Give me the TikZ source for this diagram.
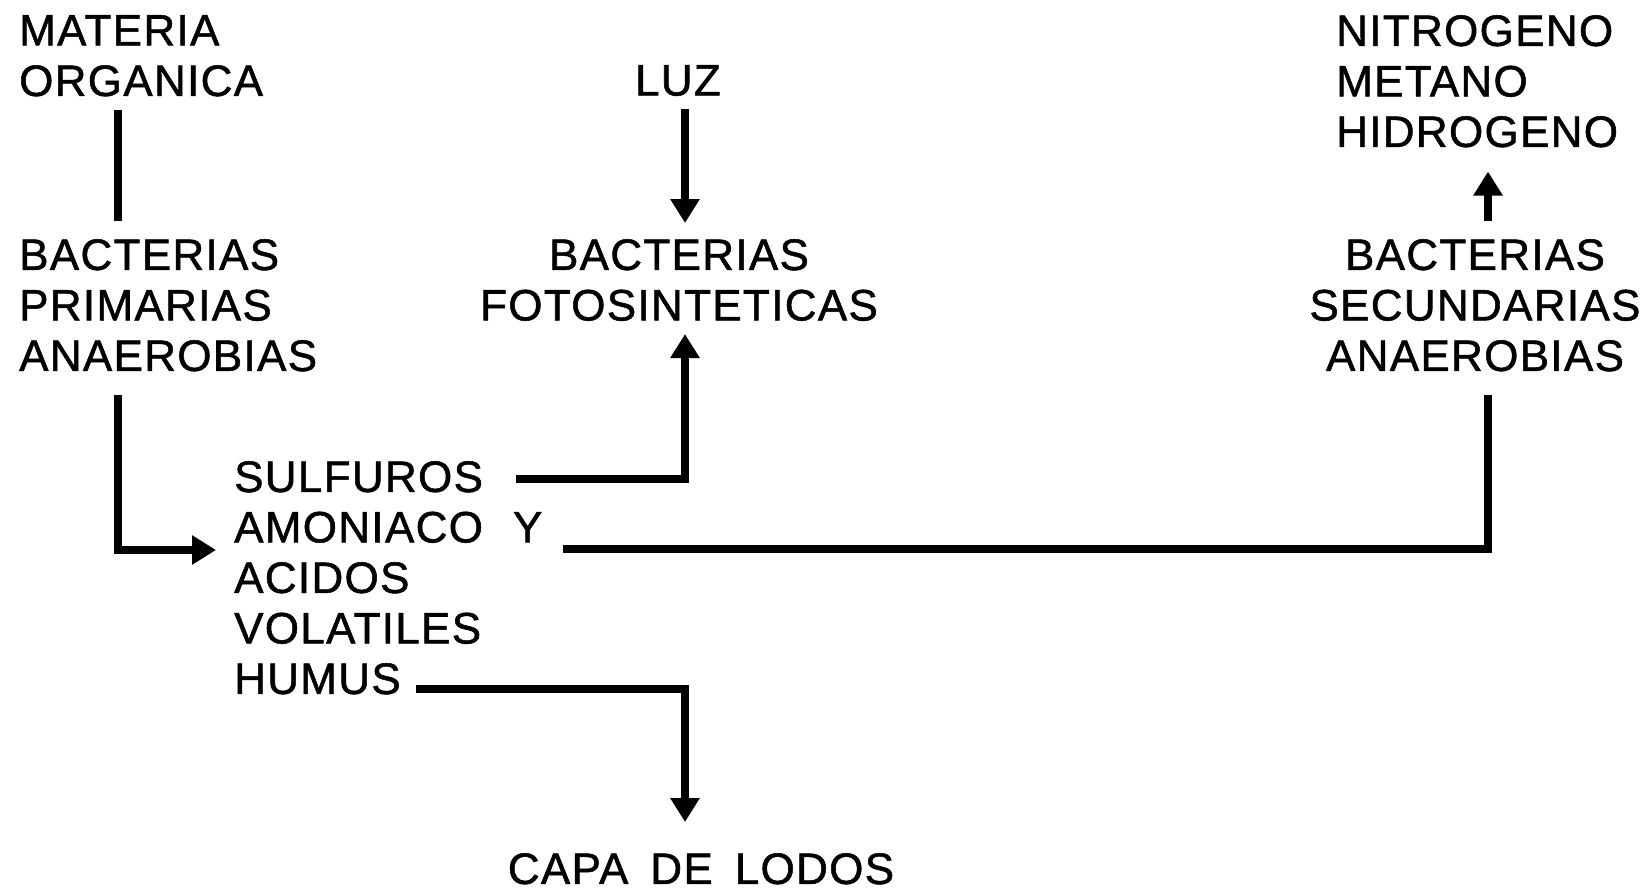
\documentclass[tikz,border=0pt]{standalone}
\usepackage{fontspec}
\setmainfont{Liberation Sans}[LetterSpace=3, FakeBold=1.2]
\usetikzlibrary{arrows.meta}

\tikzset{
  txt/.style={inner sep=0pt, font=\fontsize{44}{50.5}\selectfont, align=left},
  bar/.style={line width=8pt},
  flow/.style={line width=8pt, -{Triangle[length=24pt,width=28pt]}}
}

\begin{document}
\begin{tikzpicture}[x=1pt, y=-1pt]
  \useasboundingbox (0,0) rectangle (1650,891);

  % text blocks
  \node[txt, anchor=north west] (mo) at (19,15) {MATERIA\\ORGANICA};
  \node[txt, anchor=north] (luz) at (678,65) {LUZ};
  \node[txt, anchor=north west] (gas) at (1336,15) {NITROGENO\\METANO\\HIDROGENO};
  \node[txt, anchor=north west] (bpa) at (19,239) {BACTERIAS\\PRIMARIAS\\ANAEROBIAS};
  \node[txt, anchor=north, align=center] (bfs) at (679,239) {BACTERIAS\\FOTOSINTETICAS};
  \node[txt, anchor=north, align=center] (bsa) at (1475,239) {BACTERIAS\\SECUNDARIAS\\ANAEROBIAS};
  \node[txt, anchor=north west] (sav) at (234,461)
    {SULFUROS\\AMONIACO\hspace{30pt}Y\\ACIDOS\\VOLATILES\\HUMUS};
  \node[txt, anchor=north] (cdl) at (701,853) {CAPA\hspace{22pt}DE\hspace{22pt}LODOS};

  % columns of the vertical runs
  \coordinate (colA) at (118,0);
  \coordinate (colB) at (685,0);
  \coordinate (colC) at (1488,0);

  % connectors
  \draw[bar] ([yshift=-13pt]mo.south -| colA) -- ([yshift=18pt]bpa.north -| colA);
  \draw[flow] ([yshift=-13pt]luz.south -| colB) -- ([yshift=16pt]bfs.north -| colB);
  \draw[flow] ([yshift=18pt]bsa.north -| colC) -- ([yshift=-24pt]gas.south -| colC);
  \draw[flow] ([yshift=-23pt]bpa.south -| colA) |- ([xshift=-18pt, yshift=-89pt]sav.north west);
  \draw[flow] ([xshift=282pt, yshift=-18pt]sav.north west) -| ([yshift=-13pt]bfs.south -| colB);
  \draw[bar] ([xshift=329pt, yshift=-88pt]sav.north west) -| ([yshift=-23pt]bsa.south -| colC);
  \draw[flow] ([xshift=182pt, yshift=-228pt]sav.north west) -| ([yshift=31pt]cdl.north -| colB);
\end{tikzpicture}
\end{document}
